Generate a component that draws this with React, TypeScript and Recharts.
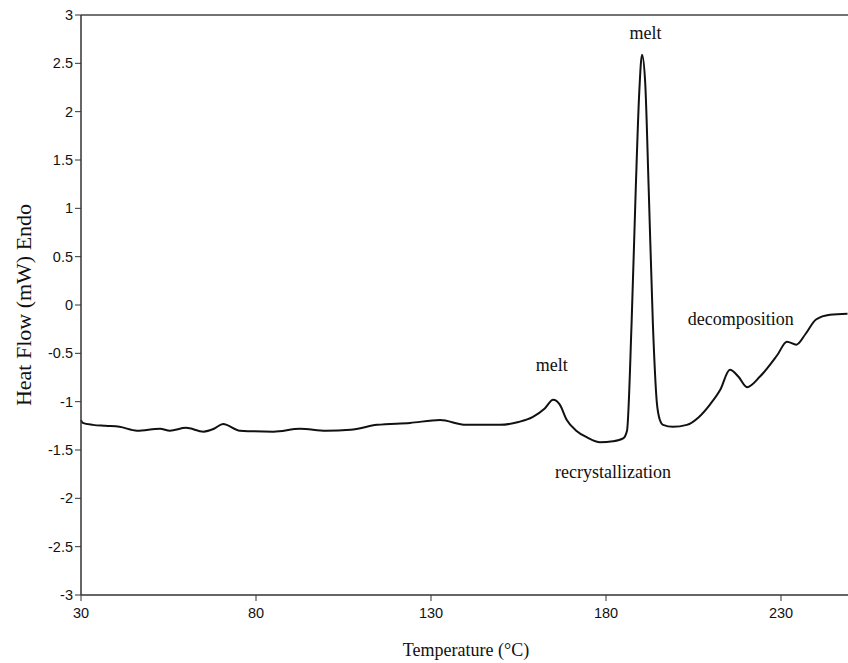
import React from "react";
import {
  LineChart,
  Line,
  XAxis,
  YAxis,
  ReferenceLine,
  ReferenceDot,
} from "recharts";

// temperature (°C) and heat flow (mW, endo up)
const temps = [
  30, 30.5, 33.4, 37, 41, 46, 52.6, 55.4, 60, 65, 68, 70.6, 75.4, 85, 92.6,
  100, 107, 114.6, 124, 132.6, 140, 149.7, 155, 159, 162.5, 164.9, 166.8,
  168.8, 171.5, 174.6, 178.3, 182, 184.9, 186, 187.3, 188.5, 189.5, 190.3,
  191.2, 192.2, 193.4, 194.5, 195.4, 196.3, 199.1, 203.1, 206.5, 209.7, 212.6,
  215.4, 217.8, 220.3, 224, 228.9, 231.7, 234.4, 237, 240, 244, 249,
];
const heatFlow = [
  -1.19, -1.22, -1.24, -1.25, -1.26, -1.3, -1.28, -1.3, -1.27, -1.31, -1.28,
  -1.23, -1.3, -1.31, -1.28, -1.3, -1.29, -1.24, -1.22, -1.19, -1.24, -1.24,
  -1.21, -1.16, -1.07, -0.98, -1.03, -1.19, -1.3, -1.37, -1.42, -1.41, -1.38,
  -1.3, -0.2, 1.2, 2.2, 2.59, 2.3, 1.2, -0.2, -1.0, -1.19, -1.24, -1.26,
  -1.24, -1.16, -1.03, -0.88, -0.67, -0.74, -0.85, -0.74, -0.52, -0.38, -0.41,
  -0.3, -0.15, -0.1, -0.09,
];
const xTicks = [30, 80, 130, 180, 230];
const yTicks = [-3, -2.5, -2, -1.5, -1, -0.5, 0, 0.5, 1, 1.5, 2, 2.5, 3];

const notes = [
  { text: "melt", t: 191.3, v: 2.82 },
  { text: "melt", t: 164.5, v: -0.62 },
  { text: "recrystallization", t: 182, v: -1.72 },
  { text: "decomposition", t: 218.5, v: -0.14 },
];

const data = temps.map((t, i) => ({ t, v: heatFlow[i] }));

const tickStyle = { fontFamily: "Liberation Sans, Arial", fontSize: 14.5, fill: "#111" };
const serif = "Liberation Serif, Times New Roman, serif";

export default function App() {
  return (
    <div
      style={{
        position: "absolute",
        left: 0,
        top: 0,
        width: 848,
        height: 663,
        overflow: "hidden",
        background: "#fff",
      }}
    >
      <LineChart
        width={858}
        height={663}
        data={data}
        margin={{ top: 15, right: 7, left: 0, bottom: 0 }}
      >
        <XAxis
          dataKey="t"
          type="number"
          domain={[30, 250]}
          ticks={xTicks}
          tick={tickStyle}
          tickSize={6}
          tickMargin={7}
          axisLine={{ stroke: "#333", strokeWidth: 1.5 }}
          tickLine={{ stroke: "#333" }}
          height={68}
          label={{
            value: "Temperature (°C)",
            position: "insideBottom",
            offset: 7,
            style: { fontFamily: serif, fontSize: 18, fill: "#111" },
          }}
        />
        <YAxis
          type="number"
          domain={[-3, 3]}
          ticks={yTicks}
          tick={tickStyle}
          tickSize={6}
          width={81}
          axisLine={{ stroke: "#333", strokeWidth: 1.5 }}
          tickLine={{ stroke: "#333" }}
          label={{
            value: "Heat Flow (mW) Endo",
            angle: -90,
            position: "insideLeft",
            offset: 0,
            dx: 23,
            style: { fontFamily: serif, fontSize: 22, fill: "#111", textAnchor: "middle" },
          }}
        />
        <ReferenceLine y={3} stroke="#444" strokeWidth={1.5} />
        <Line
          dataKey="v"
          type="monotone"
          stroke="#111"
          strokeWidth={2}
          dot={false}
          isAnimationActive={false}
        />
        {notes.map((n, i) => (
          <ReferenceDot
            key={i}
            x={n.t}
            y={n.v}
            r={0}
            fill="none"
            stroke="none"
            label={{
              value: n.text,
              position: "center",
              style: { fontFamily: serif, fontSize: 18, fill: "#111" },
            }}
          />
        ))}
      </LineChart>
    </div>
  );
}
